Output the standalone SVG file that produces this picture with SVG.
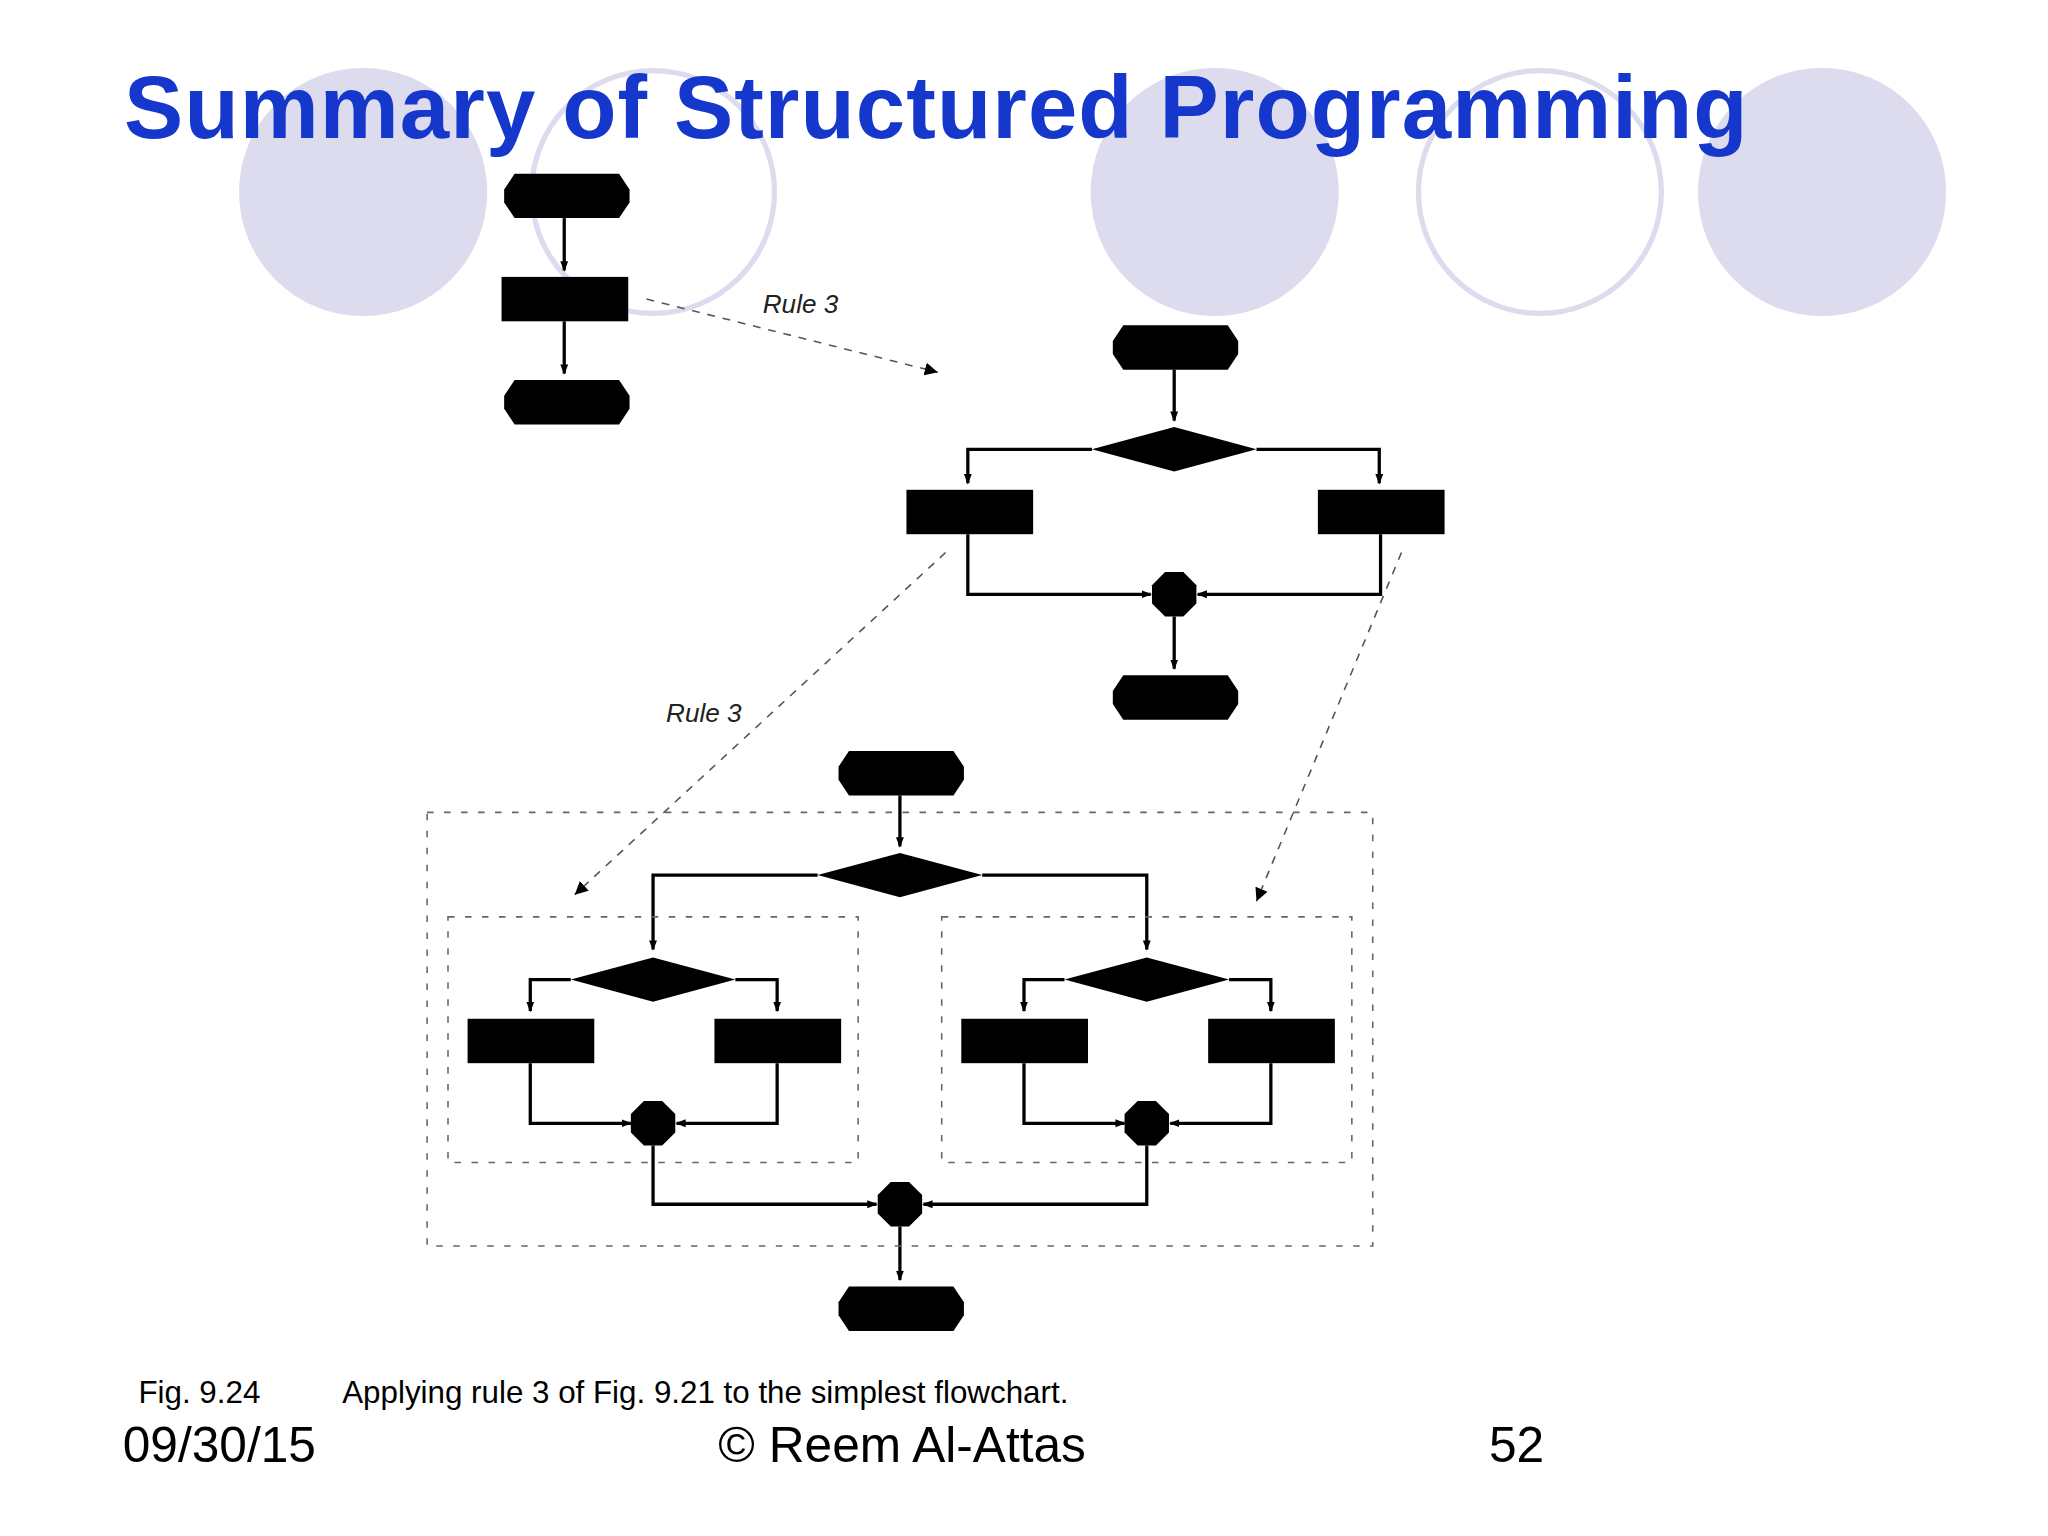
<svg xmlns="http://www.w3.org/2000/svg" width="2048" height="1536" viewBox="0 0 2048 1536">
<defs>
<style>
.ln{fill:none;stroke:#000;stroke-width:2.5}
.ds{fill:none;stroke:#555;stroke-width:1.2;stroke-dasharray:6 6}
.bx{fill:none;stroke:#666;stroke-width:1.2;stroke-dasharray:5 8}
.f{fill:#000}
.t{font-family:"Liberation Sans",Arial,sans-serif}
</style>
<marker id="a" markerWidth="8" markerHeight="12" refX="7" refY="4" orient="auto" markerUnits="userSpaceOnUse" viewBox="0 0 8 8"><path d="M0,1 L8,4 L0,7 Z" fill="#000"/></marker>
<marker id="d" markerWidth="10" markerHeight="10" refX="8" refY="4" orient="auto" markerUnits="userSpaceOnUse" viewBox="0 0 8 8"><path d="M0,0 L8,4 L0,8 Z" fill="#000"/></marker>
<path id="term" d="M8,0 H88 L96,12 V22 L88,34 H8 L0,22 V12 Z"/>
<path id="dia" d="M-63,0 L0,-17 L63,0 L0,17 Z"/>
<path id="con" d="M-7,-17 H7 L17,-7 V7 L7,17 H-7 L-17,7 V-7 Z"/>
</defs>
<rect width="2048" height="1536" fill="#fff"/>
<g transform="scale(1.30612)">
<g id="bg">
<circle cx="278" cy="147" r="95" fill="#dcdcee"/>
<circle cx="500" cy="147" r="93" fill="none" stroke="#dcdcee" stroke-width="4"/>
<circle cx="930" cy="147" r="95" fill="#dcdcee"/>
<circle cx="1179" cy="147" r="93" fill="none" stroke="#dcdcee" stroke-width="4"/>
<circle cx="1395" cy="147" r="95" fill="#dcdcee"/>
</g>
<text class="t" x="95" y="106" font-size="68" font-weight="bold" fill="#1537cc" textLength="1243">Summary of Structured Programming</text>
<g id="connectors">
<path class="ln" marker-end="url(#a)" d="M432,167 V207"/>
<path class="ln" marker-end="url(#a)" d="M432,246 V286"/>
<path class="ds" marker-end="url(#d)" d="M495,229 L718,285"/>
<path class="ln" marker-end="url(#a)" d="M899,283 V322"/>
<path class="ln" marker-end="url(#a)" d="M836,344 H741 V370"/>
<path class="ln" marker-end="url(#a)" d="M962,344 H1056 V370"/>
<path class="ln" marker-end="url(#a)" d="M741,409 V455 H881"/>
<path class="ln" marker-end="url(#a)" d="M1057,409 V455 H917"/>
<path class="ln" marker-end="url(#a)" d="M899,472 V512"/>
<path class="ds" marker-end="url(#d)" d="M724,423 L440,685"/>
<path class="ds" marker-end="url(#d)" d="M1073,423 L962,690"/>
<path class="ln" marker-end="url(#a)" d="M689,609 V648"/>
<path class="ln" marker-end="url(#a)" d="M626,670 H500 V727"/>
<path class="ln" marker-end="url(#a)" d="M752,670 H878 V727"/>
<path class="ln" marker-end="url(#a)" d="M437,750 H406 V774"/>
<path class="ln" marker-end="url(#a)" d="M563,750 H595 V774"/>
<path class="ln" marker-end="url(#a)" d="M815,750 H784 V774"/>
<path class="ln" marker-end="url(#a)" d="M941,750 H973 V774"/>
<path class="ln" marker-end="url(#a)" d="M406,814 V860 H483"/>
<path class="ln" marker-end="url(#a)" d="M595,814 V860 H518"/>
<path class="ln" marker-end="url(#a)" d="M784,814 V860 H861"/>
<path class="ln" marker-end="url(#a)" d="M973,814 V860 H896"/>
<path class="ln" marker-end="url(#a)" d="M500,877 V922 H671"/>
<path class="ln" marker-end="url(#a)" d="M878,877 V922 H707"/>
<path class="ln" marker-end="url(#a)" d="M689,939 V980"/>
<rect class="bx" x="327" y="622" width="724" height="332"/>
<rect class="bx" x="343" y="702" width="314" height="188"/>
<rect class="bx" x="721" y="702" width="314" height="188"/>
</g>
<g id="labels" class="t" font-size="20" font-style="italic" fill="#222">
<text x="584" y="240">Rule 3</text>
<text x="510" y="553">Rule 3</text>
</g>
<g id="n1"><use href="#term" x="386" y="133"/></g>
<g id="n2"><rect x="384" y="212" width="97" height="34"/></g>
<g id="n3"><use href="#term" x="386" y="291"/></g>
<g id="n4"><use href="#term" x="852" y="249"/></g>
<g id="n5"><use href="#dia" x="899" y="344"/></g>
<g id="n6"><rect x="694" y="375" width="97" height="34"/></g>
<g id="n7"><rect x="1009" y="375" width="97" height="34"/></g>
<g id="n8"><use href="#con" x="899" y="455"/></g>
<g id="n9"><use href="#term" x="852" y="517"/></g>
<g id="n10"><use href="#term" x="642" y="575"/></g>
<g id="n11"><use href="#dia" x="689" y="670"/></g>
<g id="n12"><use href="#dia" x="500" y="750"/></g>
<g id="n13"><use href="#dia" x="878" y="750"/></g>
<g id="n14"><rect x="358" y="780" width="97" height="34"/></g>
<g id="n15"><rect x="547" y="780" width="97" height="34"/></g>
<g id="n16"><rect x="736" y="780" width="97" height="34"/></g>
<g id="n17"><rect x="925" y="780" width="97" height="34"/></g>
<g id="n18"><use href="#con" x="500" y="860"/></g>
<g id="n19"><use href="#con" x="878" y="860"/></g>
<g id="n20"><use href="#con" x="689" y="922"/></g>
<g id="n21"><use href="#term" x="642" y="985"/></g>
<g class="t" fill="#000">
<text x="106" y="1074" font-size="24">Fig. 9.24</text>
<text x="262" y="1074" font-size="24">Applying rule 3 of Fig. 9.21 to the simplest flowchart.</text>
<text x="94" y="1119" font-size="38">09/30/15</text>
<text x="550" y="1119" font-size="38">© Reem Al-Attas</text>
<text x="1140" y="1119" font-size="38">52</text>
</g>
</g>
</svg>
